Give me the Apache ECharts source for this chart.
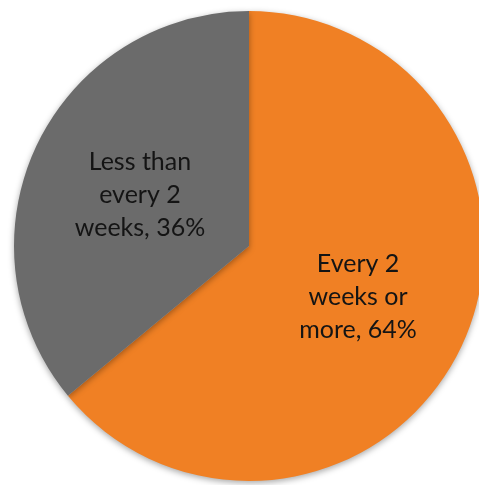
<!DOCTYPE html>
<html>
<head>
<meta charset="utf-8">
<script src="https://cdn.jsdelivr.net/npm/echarts@6/dist/echarts.min.js"></script>
<style>html,body{margin:0;padding:0;background:#fff}#c{width:479px;height:485px}</style>
</head>
<body>
<div id="c"></div>
<script>
const categories = ["Every 2\nweeks or\nmore", "Less than\nevery 2\nweeks"];
const values = [64, 36];
const colors = ["#F08024", "#6B6B6B"];

const chart = echarts.init(document.getElementById('c'));
chart.setOption({
  animation: false,
  series: [{
    type: 'pie',
    center: [249, 246],
    radius: 235,
    startAngle: 90,
    clockwise: true,
    data: categories.map((c, i) => ({ name: c, value: values[i], itemStyle: { color: colors[i] } })),
    itemStyle: {
      shadowBlur: 6,
      shadowOffsetY: 2,
      shadowColor: 'rgba(0,0,0,0.35)'
    },
    label: {
      position: 'inside',
      formatter: p => p.name + ', ' + p.value + '%',
      fontFamily: 'Lato',
      fontSize: 25,
      lineHeight: 33,
      color: '#141414',
      align: 'center'
    },
    labelLine: { show: false },
    emphasis: { disabled: true }
  }]
});
</script>
</body>
</html>
